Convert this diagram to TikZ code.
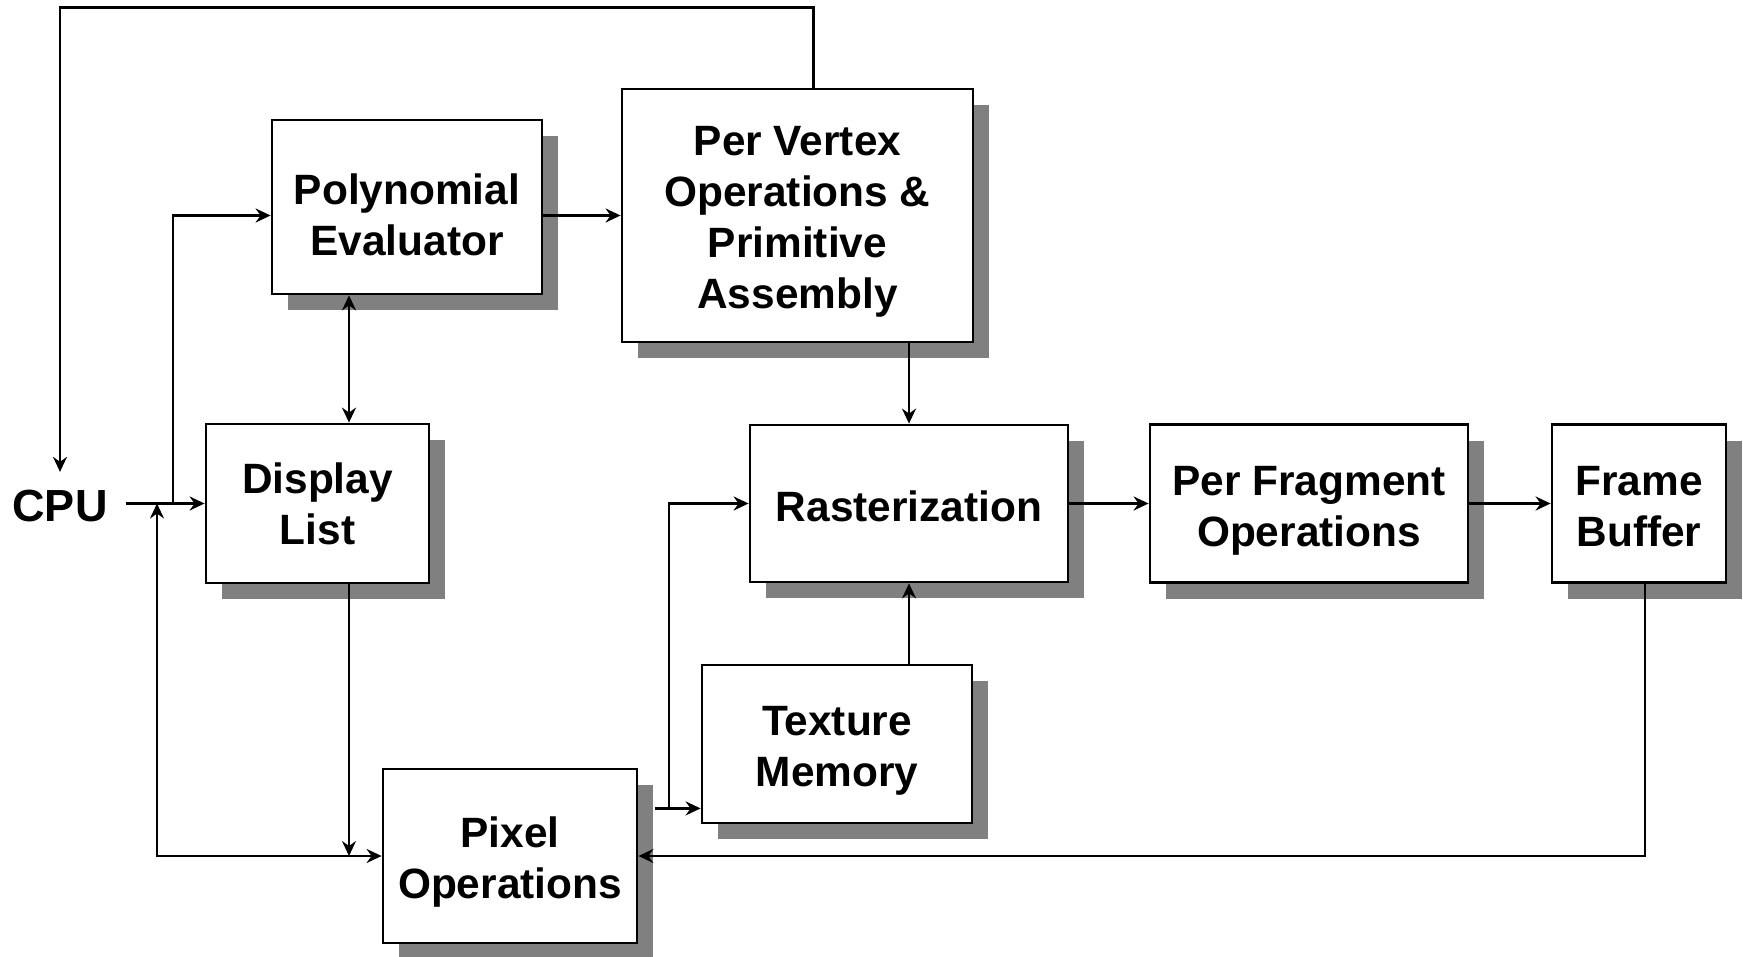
\documentclass[tikz,border=0pt]{standalone}
\usepackage{fontspec}
\setmainfont{Liberation Sans}
\usetikzlibrary{arrows.meta,shadows,calc}
\newcommand\lblfont{\fontsize{42.4}{51}\selectfont\bfseries}
\begin{document}
\begin{tikzpicture}[x=1pt,y=-1pt,
  box/.style={draw, line width=2.8pt, fill=white, inner sep=0pt,
     drop shadow={shadow xshift=16pt, shadow yshift=-16pt, fill=black!50, opacity=1}},
  tl/.style={font=\lblfont, align=center, inner sep=0pt},
  conn/.style={line width=2.4pt, -{Stealth[length=15pt,width=14pt,inset=5pt]}},
  conn2/.style={line width=2.4pt, {Stealth[length=15pt,width=14pt,inset=5pt]}-{Stealth[length=15pt,width=14pt,inset=5pt]}},
]
\useasboundingbox (0,0) rectangle (1743,957);

\node[box, minimum width=270pt, minimum height=174pt,
      label={[tl, yshift=-8pt]center:Polynomial\\Evaluator}] (poly) at (407,207) {};
\node[box, minimum width=351pt, minimum height=253pt,
      label={[tl, yshift=-6.5pt]center:Per Vertex\\Operations \&\\Primitive\\Assembly}] (pv) at (797.5,215.5) {};
\node[box, minimum width=223pt, minimum height=159pt,
      label={[tl]center:Display\\List}] (dl) at (317.5,503.5) {};
\node[box, minimum width=318pt, minimum height=157pt,
      label={[tl, yshift=-3pt]center:Rasterization}] (rast) at (909,503.5) {};
\node[box, minimum width=318pt, minimum height=158pt,
      label={[tl, yshift=-7pt]center:Per Fragment\\Operations}] (pf) at (1309,503.5) {};
\node[box, minimum width=174pt, minimum height=158pt,
      label={[tl, yshift=-3pt]center:Frame\\Buffer}] (fb) at (1639,503.5) {};
\node[box, minimum width=270pt, minimum height=158pt,
      label={[tl, yshift=-7pt]center:Texture\\Memory}] (tex) at (837,744) {};
\node[box, minimum width=254pt, minimum height=174pt,
      label={[tl, yshift=-6pt]center:Pixel\\Operations}] (px) at (510,856) {};
\node[font=\fontsize{45}{54}\selectfont\bfseries, inner sep=18pt] (cpu) at (60,506) {CPU};

\coordinate (j1) at (173,503.5);
\coordinate (j2) at (157,503.5);
\coordinate (j3) at (669,807);
\coordinate (dln) at ([xshift=31.5pt]dl.north);
\coordinate (dls) at ([xshift=31.5pt]dl.south);
\coordinate (pe) at ([yshift=-8.5pt]poly.east);
\coordinate (tx) at ([yshift=16pt]tex.south west);
\coordinate (pxs) at ([xshift=17pt]px.east);
\coordinate (fbs) at ([xshift=6pt]fb.south);

\draw[conn] ([xshift=16pt]pv.north) -- ++(0,-80) -| (cpu.north);
\draw[conn] (cpu.east |- dl.west) -- (dl.west);
\draw[conn] (j1) |- ([yshift=-8.5pt]poly.west);
\draw[conn2] (dln) -- (dln |- poly.south);
\draw[conn] (pe) -- (pe -| pv.west);
\draw[conn] (pv.south -| rast.north) -- (rast.north);
\draw[conn] (dls) -- (dls |- px.west);
\draw[conn2] (j2) |- (px.west);
\draw[conn] (pxs |- tx) -- (tx);
\draw[conn] (j3) |- (rast.west);
\draw[conn] (tex.north -| rast.south) -- (rast.south);
\draw[conn] (rast.east) -- (pf.west);
\draw[conn] (pf.east) -- (fb.west);
\draw[conn] (fbs) |- (px.east);
\end{tikzpicture}
\end{document}
